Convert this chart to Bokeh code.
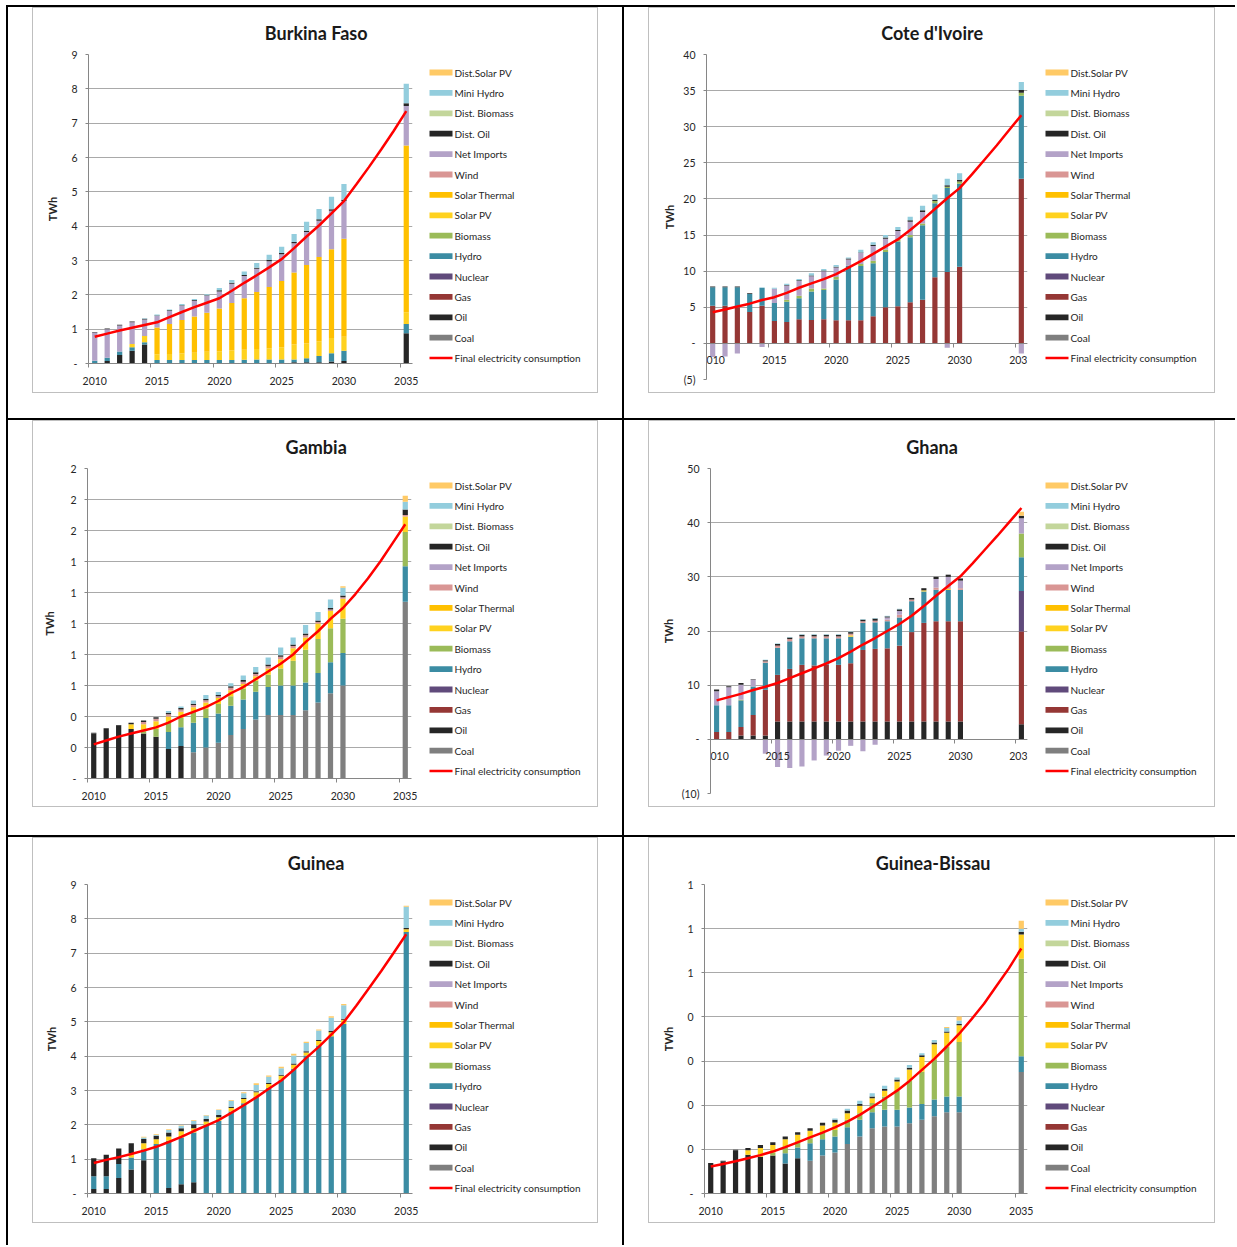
from bokeh.plotting import figure
from bokeh.models import (Range1d, FixedTicker, Title, Row, Column)
from bokeh.core.properties import value
from bokeh.embed import file_html
from bokeh.resources import INLINE

YEARS = list(range(2010, 2031)) + [2035]
LINE_YEARS = list(range(2010, 2036))
X_TICKS = [2010, 2015, 2020, 2025, 2030, 2035]
X_BOUNDS = [2009.5, 2014.5, 2019.5, 2024.5, 2029.5, 2034.5]

STACK_ORDER = ["Coal", "Oil", "Gas", "Nuclear", "Hydro", "Biomass", "Solar PV",
               "Solar Thermal", "Wind", "Net Imports", "Dist. Oil",
               "Dist. Biomass", "Mini Hydro", "Dist.Solar PV"]
LINE_LABEL = "Final electricity consumption"
COLORS = {
    "Coal": "#7F7F7F", "Oil": "#262626", "Gas": "#953735", "Nuclear": "#604A7B",
    "Hydro": "#3B8CA3", "Biomass": "#9BBB59", "Solar PV": "#FFD21F",
    "Solar Thermal": "#FFC000", "Wind": "#D99694", "Net Imports": "#B3A2C7",
    "Dist. Oil": "#262626", "Dist. Biomass": "#C3D69B", "Mini Hydro": "#93CDDD",
    "Dist.Solar PV": "#FFCA66",
}

burkina_faso = {
    "Oil": [0, 0.07, 0.25, 0.37, 0.55, 0, 0, 0, 0, 0, 0, 0, 0, 0, 0, 0, 0.04, 0.04, 0.04, 0.06, 0.07, 0.88],
    "Hydro": [0.08, 0.10, 0.10, 0.10, 0.07, 0.10, 0.10, 0.10, 0.10, 0.10, 0.10, 0.10, 0.11, 0.12, 0.12, 0.12, 0.08, 0.11, 0.18, 0.24, 0.30, 0.27],
    "Solar PV": [0, 0, 0, 0.10, 0.18, 0.17, 0.18, 0.19, 0.21, 0.24, 0.26, 0.28, 0.29, 0.30, 0.32, 0.35, 0.43, 0.43, 0.43, 0.44, 0.41, 0.34],
    "Solar Thermal": [0, 0, 0, 0, 0, 0.78, 0.87, 0.98, 1.06, 1.14, 1.24, 1.38, 1.50, 1.66, 1.79, 1.93, 2.10, 2.29, 2.45, 2.59, 2.85, 4.86],
    "Net Imports": [0.82, 0.83, 0.76, 0.63, 0.48, 0.33, 0.38, 0.41, 0.46, 0.49, 0.50, 0.56, 0.65, 0.68, 0.75, 0.78, 0.85, 0.96, 1.06, 1.12, 1.10, 1.15],
    "Dist. Oil": [0.02, 0.02, 0.02, 0.02, 0.02, 0.02, 0.02, 0.02, 0.02, 0.02, 0.03, 0.03, 0.03, 0.03, 0.04, 0.04, 0.04, 0.04, 0.04, 0.04, 0.04, 0.08],
    "Mini Hydro": [0, 0, 0, 0, 0.02, 0.03, 0.02, 0.03, 0.03, 0.03, 0.07, 0.08, 0.10, 0.14, 0.15, 0.18, 0.23, 0.26, 0.30, 0.37, 0.46, 0.57],
}
burkina_faso_line = [0.78, 0.87, 0.96, 1.04, 1.12, 1.20, 1.35, 1.50, 1.64, 1.77, 1.90, 2.12, 2.35, 2.57, 2.80, 3.04, 3.36, 3.70, 4.02, 4.37, 4.73, 5.22, 5.72, 6.24, 6.78, 7.35]

cote_divoire = {
    "Gas": [5.2, 5.2, 5.0, 4.35, 5.2, 3.1, 2.95, 3.35, 3.25, 3.35, 3.2, 3.2, 3.2, 3.75, 5.0, 5.15, 5.7, 6.05, 9.15, 9.9, 10.6, 22.8],
    "Hydro": [2.58, 2.58, 2.78, 2.5, 2.5, 2.5, 2.8, 2.9, 3.95, 4.05, 5.65, 7.55, 7.5, 7.35, 7.65, 8.95, 9.0, 10.3, 10.25, 11.6, 11.5, 11.5],
    "Biomass": [0, 0, 0, 0, 0, 0, 0.3, 0.35, 0.4, 0.2, 0.35, 0, 0.3, 0.35, 0.35, 0.25, 0.3, 0.25, 0.3, 0.2, 0.3, 0.4],
    "Net Imports": [-1.9, -1.8, -1.4, -0.05, -0.5, 1.95, 1.95, 2.05, 1.7, 2.4, 1.3, 0.85, 1.5, 2.05, 1.5, 1.2, 1.85, 1.6, -0.1, -0.6, -0.1, -1.4],
    "Dist. Oil": [0.1, 0.1, 0.1, 0.1, 0, 0, 0.1, 0.1, 0.1, 0.1, 0.1, 0.15, 0.1, 0.15, 0.15, 0.15, 0.2, 0.25, 0.2, 0.2, 0.25, 0.4],
    "Mini Hydro": [0, 0, 0, 0, 0.05, 0.15, 0.15, 0.15, 0.3, 0.2, 0.25, 0.15, 0.35, 0.35, 0.35, 0.4, 0.5, 0.6, 0.7, 0.9, 0.9, 1.1],
}
cote_divoire_line = [4.3, 4.7, 5.1, 5.5, 6.0, 6.4, 7.0, 7.7, 8.3, 8.9, 9.6, 10.5, 11.4, 12.4, 13.4, 14.4, 15.7, 17.1, 18.6, 20.1, 21.5, 23.4, 25.4, 27.4, 29.5, 31.6]

gambia = {
    "Coal": [0, 0, 0, 0, 0, 0, 0, 0, 0.17, 0.2, 0.23, 0.28, 0.32, 0.38, 0.41, 0.41, 0.41, 0.44, 0.49, 0.55, 0.6, 1.14],
    "Oil": [0.29, 0.32, 0.34, 0.32, 0.29, 0.27, 0.19, 0.21, 0, 0, 0, 0, 0, 0, 0, 0, 0, 0, 0, 0, 0, 0],
    "Hydro": [0, 0, 0, 0, 0, 0, 0.11, 0.12, 0.19, 0.19, 0.19, 0.19, 0.19, 0.18, 0.18, 0.19, 0.19, 0.18, 0.19, 0.2, 0.21, 0.23],
    "Biomass": [0, 0, 0, 0, 0.015, 0.05, 0.06, 0.06, 0.07, 0.06, 0.06, 0.06, 0.07, 0.07, 0.08, 0.11, 0.16, 0.21, 0.22, 0.22, 0.22, 0.22],
    "Solar PV": [0, 0, 0, 0.03, 0.045, 0.05, 0.04, 0.04, 0.03, 0.04, 0.04, 0.04, 0.03, 0.03, 0.04, 0.06, 0.08, 0.08, 0.1, 0.11, 0.13, 0.1],
    "Wind": [0, 0, 0, 0, 0.015, 0.015, 0.015, 0.015, 0.015, 0.015, 0.01, 0.015, 0.015, 0.015, 0.015, 0.015, 0.015, 0.015, 0.01, 0.01, 0.01, 0.01],
    "Dist. Oil": [0.005, 0.005, 0.005, 0.01, 0.01, 0.01, 0.01, 0.01, 0.008, 0.008, 0.008, 0.01, 0.01, 0.01, 0.01, 0.01, 0.01, 0.01, 0.01, 0.01, 0.01, 0.035],
    "Mini Hydro": [0, 0, 0, 0, 0, 0, 0.01, 0.01, 0.02, 0.025, 0.02, 0.02, 0.03, 0.035, 0.045, 0.05, 0.045, 0.055, 0.055, 0.055, 0.05, 0.05],
    "Dist.Solar PV": [0, 0, 0, 0, 0, 0, 0, 0, 0, 0, 0, 0, 0, 0, 0, 0, 0, 0, 0, 0, 0.01, 0.04],
}
gambia_line = [0.22, 0.245, 0.27, 0.29, 0.31, 0.33, 0.36, 0.40, 0.43, 0.46, 0.50, 0.55, 0.59, 0.64, 0.69, 0.74, 0.80, 0.88, 0.95, 1.03, 1.10, 1.19, 1.29, 1.40, 1.52, 1.64]

ghana = {
    "Oil": [0, 0, 0.7, 0.7, 0.7, 3.3, 3.3, 3.3, 3.3, 3.3, 3.3, 3.3, 3.3, 3.3, 3.3, 3.3, 3.3, 3.3, 3.3, 3.3, 3.3, 2.8],
    "Gas": [1.35, 1.35, 1.6, 3.8, 8.45, 8.6, 9.7, 10.45, 10.35, 10.45, 10.45, 10.75, 13.2, 13.4, 13.5, 14.0, 16.5, 18.2, 18.5, 18.5, 18.5, 17.1],
    "Nuclear": [0, 0, 0, 0, 0, 0, 0, 0, 0, 0, 0, 0, 0, 0, 0, 0, 0, 0, 0, 0, 0, 7.5],
    "Hydro": [4.95, 4.95, 4.9, 5.25, 5.0, 5.0, 5.1, 4.9, 5.0, 4.9, 4.9, 4.9, 5.0, 4.9, 5.0, 5.2, 5.7, 5.8, 5.8, 5.8, 5.8, 6.2],
    "Biomass": [0, 0, 0, 0, 0, 0, 0, 0, 0, 0, 0, 0, 0, 0, 0, 0, 0, 0, 0, 0, 0, 4.4],
    "Solar PV": [0, 0, 0.1, 0, 0, 0, 0, 0, 0, 0, 0, 0.25, 0, 0, 0, 0, 0, 0.2, 0, 0.2, 0, 0],
    "Wind": [0, 0, 0, 0, 0.25, 0.4, 0.4, 0.35, 0.35, 0.35, 0.35, 0.3, 0.3, 0.3, 0.3, 0.5, 0.3, 0, 0.4, 0.3, 0.3, 0],
    "Net Imports": [2.6, 3.3, 2.8, 1.25, -2.65, -5.1, -5.3, -5.0, -3.9, -3.0, -2.1, -1.2, -2.2, -1.0, 0.4, 0.7, 0, 0, 1.6, 1.9, 1.4, 2.8],
    "Dist. Oil": [0.3, 0.2, 0.3, 0.1, 0.2, 0.3, 0.3, 0.3, 0.3, 0.3, 0.3, 0.3, 0.3, 0.4, 0.2, 0.3, 0.3, 0.4, 0.4, 0.4, 0.4, 0.5],
    "Mini Hydro": [0, 0, 0, 0, 0.1, 0.1, 0.1, 0.1, 0.1, 0.1, 0.1, 0.1, 0.1, 0.1, 0.1, 0.1, 0, 0, 0, 0, 0, 0],
    "Dist.Solar PV": [0, 0, 0, 0, 0, 0, 0, 0, 0, 0, 0, 0, 0, 0, 0, 0, 0, 0, 0, 0, 0, 0.7],
}
ghana_line = [7.2, 7.8, 8.4, 9.1, 9.7, 10.4, 11.3, 12.2, 13.1, 14.0, 15.0, 16.2, 17.5, 18.7, 20.0, 21.3, 22.8, 24.6, 26.5, 28.3, 30.1, 32.5, 35.0, 37.5, 40.1, 42.7]

guinea = {
    "Oil": [0.13, 0.13, 0.45, 0.7, 0.97, 0, 0.16, 0.27, 0.33, 0, 0, 0, 0, 0, 0, 0, 0, 0, 0, 0, 0, 0],
    "Hydro": [0.37, 0.37, 0.41, 0.35, 0.32, 1.44, 1.38, 1.36, 1.45, 2.0, 2.12, 2.39, 2.63, 2.82, 3.07, 3.31, 3.63, 4.02, 4.31, 4.58, 4.94, 7.62],
    "Solar PV": [0, 0, 0, 0.12, 0.17, 0.14, 0.12, 0.18, 0.12, 0.1, 0.1, 0.1, 0.12, 0.13, 0.12, 0.12, 0.12, 0.09, 0.13, 0.12, 0.12, 0.08],
    "Dist. Oil": [0.53, 0.63, 0.45, 0.29, 0.13, 0.1, 0.12, 0.09, 0.12, 0.07, 0.07, 0.04, 0.03, 0.03, 0.03, 0.03, 0.04, 0.03, 0.03, 0.03, 0.03, 0.03],
    "Mini Hydro": [0, 0, 0, 0, 0.04, 0.03, 0.07, 0.07, 0.1, 0.1, 0.14, 0.17, 0.14, 0.18, 0.18, 0.19, 0.23, 0.24, 0.28, 0.39, 0.39, 0.62],
    "Dist.Solar PV": [0, 0, 0, 0, 0.02, 0.02, 0.02, 0.02, 0.02, 0.02, 0.02, 0.02, 0.03, 0.05, 0.04, 0.04, 0.05, 0.04, 0.03, 0.04, 0.04, 0.03],
}
guinea_line = [0.89, 0.98, 1.06, 1.15, 1.25, 1.36, 1.50, 1.65, 1.82, 1.98, 2.14, 2.35, 2.57, 2.80, 3.05, 3.29, 3.60, 3.95, 4.27, 4.63, 4.99, 5.47, 5.97, 6.48, 7.01, 7.55]

guinea_bissau = {
    "Oil": [0.067, 0.072, 0.097, 0.088, 0.083, 0.086, 0.068, 0.08, 0, 0, 0, 0, 0, 0, 0, 0, 0, 0, 0, 0, 0, 0],
    "Coal": [0, 0, 0, 0, 0, 0, 0, 0, 0.074, 0.086, 0.093, 0.112, 0.129, 0.148, 0.152, 0.152, 0.159, 0.167, 0.175, 0.184, 0.184, 0.275],
    "Hydro": [0, 0, 0, 0, 0, 0, 0.023, 0.024, 0.04, 0.037, 0.036, 0.038, 0.038, 0.036, 0.038, 0.038, 0.036, 0.036, 0.038, 0.036, 0.036, 0.036],
    "Biomass": [0, 0, 0, 0, 0, 0.007, 0.015, 0.012, 0.011, 0.016, 0.015, 0.017, 0.015, 0.021, 0.03, 0.042, 0.061, 0.073, 0.091, 0.112, 0.123, 0.221],
    "Solar PV": [0, 0, 0, 0.01, 0.02, 0.017, 0.017, 0.017, 0.017, 0.015, 0.017, 0.015, 0.017, 0.011, 0.013, 0.022, 0.025, 0.033, 0.034, 0.032, 0.038, 0.055],
    "Dist. Oil": [0.002, 0.002, 0.002, 0.005, 0.007, 0.006, 0.006, 0.006, 0.006, 0.006, 0.006, 0.006, 0.004, 0.004, 0.004, 0.004, 0.004, 0.004, 0.004, 0.003, 0.003, 0.006],
    "Mini Hydro": [0, 0, 0, 0, 0, 0, 0, 0, 0, 0, 0.003, 0.004, 0.007, 0.007, 0.007, 0.005, 0.006, 0.005, 0.006, 0.008, 0.008, 0.007],
    "Dist.Solar PV": [0, 0, 0, 0, 0, 0, 0, 0, 0, 0, 0, 0, 0, 0, 0, 0, 0, 0, 0, 0.002, 0.009, 0.018],
}
guinea_bissau_line = [0.061, 0.067, 0.073, 0.080, 0.087, 0.095, 0.105, 0.116, 0.127, 0.138, 0.150, 0.163, 0.178, 0.196, 0.214, 0.233, 0.255, 0.280, 0.305, 0.333, 0.362, 0.395, 0.430, 0.470, 0.510, 0.555]

bf_yticks = [0, 1, 2, 3, 4, 5, 6, 7, 8, 9]
ci_yticks = [-5, 0, 5, 10, 15, 20, 25, 30, 35, 40]
gm_yticks = [0, 0.2, 0.4, 0.6, 0.8, 1.0, 1.2, 1.4, 1.6, 1.8, 2.0]
gh_yticks = [-10, 0, 10, 20, 30, 40, 50]
gn_yticks = [0, 1, 2, 3, 4, 5, 6, 7, 8, 9]
gb_yticks = [0, 0.1, 0.2, 0.3, 0.4, 0.5, 0.6, 0.7]

FONT = "Lato"
TXT = "#262626"
AXIS_C = "#868686"
GRID_C = "#A9A9A9"
TITLE_PX = 18

_EM = {"B": .62, "C": .64, "F": .53, "G": .68, "I": .28, "a": .50, "b": .56,
       "d": .56, "e": .53, "h": .56, "i": .25, "k": .51, "m": .83, "n": .56,
       "o": .56, "r": .37, "s": .42, "t": .35, "u": .56, "v": .51, "'": .20,
       " ": .25, "-": .34}


def text_width(s, px):
    return sum(_EM.get(c, .55) for c in s) * px


def accounting(v):
    if abs(v) < 1e-9:
        return "-"
    r = int(abs(v) + 0.5 + 1e-9)
    return "(%d)" % r if v < 0 else "%d" % r


def make_cell(name, data, line, y_lo, y_hi, y_ticks, cw, ch, fw, mb_left,
              mb_top, mb_bottom, twh_standoff, cross_zero, margin):
    mb_right = 8
    fh = ch - mb_top - mb_bottom
    p = figure(frame_width=fw, frame_height=fh,
               x_range=Range1d(2009.5, 2035.5), y_range=Range1d(y_lo, y_hi),
               output_backend="svg", toolbar_location=None,
               min_border_left=mb_left, min_border_right=mb_right,
               min_border_top=mb_top, min_border_bottom=mb_bottom,
               background_fill_color="white", border_fill_color="white",
               outline_line_color=None)

    n = len(YEARS)
    pos = [0.0] * n
    neg = [0.0] * n
    for s in STACK_ORDER:
        vals = data.get(s, [0.0] * n)
        bottoms, tops = [], []
        for i, v in enumerate(vals):
            if v >= 0:
                bottoms.append(pos[i]); pos[i] += v; tops.append(pos[i])
            else:
                bottoms.append(neg[i]); neg[i] += v; tops.append(neg[i])
        p.vbar(x=YEARS, bottom=bottoms, top=tops, width=0.42,
               fill_color=COLORS[s], line_color=None)
    p.line(LINE_YEARS, line, line_color="#FF0000", line_width=2.5)

    xa = p.xaxis[0]
    xa.ticker = FixedTicker(ticks=X_TICKS, minor_ticks=X_BOUNDS)
    xa.major_tick_out = 0
    xa.major_tick_in = 0
    xa.minor_tick_out = 4
    xa.minor_tick_in = 0
    xa.minor_tick_line_color = AXIS_C
    xa.axis_line_color = AXIS_C
    xa.major_label_standoff = 9
    xa.major_label_text_font = FONT
    xa.major_label_text_font_size = "10.5px"
    xa.major_label_text_color = TXT
    if cross_zero:
        xa.fixed_location = 0

    ya = p.yaxis[0]
    ya.ticker = FixedTicker(ticks=y_ticks)
    ya.major_label_overrides = {float(t): accounting(t) for t in y_ticks}
    ya.major_tick_out = 3
    ya.major_tick_in = 0
    ya.major_tick_line_color = AXIS_C
    ya.axis_line_color = AXIS_C
    ya.major_label_standoff = 8
    ya.major_label_text_font = FONT
    ya.major_label_text_font_size = "10.5px"
    ya.major_label_text_color = TXT
    ya.axis_label = "TWh"
    ya.axis_label_text_font = FONT
    ya.axis_label_text_font_size = "11px"
    ya.axis_label_text_font_style = "bold"
    ya.axis_label_text_color = TXT
    ya.axis_label_standoff = twh_standoff

    p.xgrid.grid_line_color = None
    p.ygrid.grid_line_color = GRID_C

    offset = 282 - text_width(name, TITLE_PX) / 2 - mb_left
    p.add_layout(Title(text=name, align="left", offset=offset,
                       vertical_align="middle", standoff=20,
                       text_font=FONT, text_font_size="%dpx" % TITLE_PX,
                       text_font_style="bold", text_color="#1A1A1A"), "above")

    # key panel: a companion figure with the same vertical borders as the
    # chart, whose ranges are in canvas pixels (y grows downward)
    main_w = mb_left + fw + mb_right
    lw = cw - main_w
    lf = figure(frame_width=lw, frame_height=fh,
                x_range=Range1d(0, lw), y_range=Range1d(mb_top + fh, mb_top),
                output_backend="svg", toolbar_location=None,
                x_axis_location=None, y_axis_location=None,
                title_location=None, min_border_left=0, min_border_right=0,
                min_border_top=mb_top, min_border_bottom=mb_bottom,
                outline_line_color=None, background_fill_color="white",
                border_fill_color="white")
    lf.xgrid.grid_line_color = None
    lf.ygrid.grid_line_color = None

    labels = list(reversed(STACK_ORDER)) + [LINE_LABEL]
    yc = [64.0 + 20.4 * k for k in range(len(labels))]
    x0, x1, tx = 396 - main_w, 419 - main_w, 421 - main_w
    nb = len(STACK_ORDER)
    lf.quad(left=[x0] * nb, right=[x1] * nb,
            top=[y - 2.9 for y in yc[:nb]], bottom=[y + 2.9 for y in yc[:nb]],
            fill_color=[COLORS[s] for s in labels[:nb]], line_color=None)
    lf.segment(x0=[x0], y0=[yc[-1]], x1=[x1], y1=[yc[-1]],
               line_color="#FF0000", line_width=2.5)
    lf.text(x=[tx] * len(labels), y=yc, text=labels,
            text_font=value(FONT), text_font_size=value("10px"),
            text_baseline="middle", text_align="left", text_color=TXT)

    return Row(children=[p, lf], spacing=0, margin=margin,
               styles={"outline": "1px solid #BFBFBF"})


# (top, right, bottom, left) margins place each chart box inside its table cell
c_bf = make_cell("Burkina Faso", burkina_faso, burkina_faso_line, 0, 9, bf_yticks,
                 564, 384, 324, 55, 46, 29, 9, False, (8, 25, 26, 33))
c_ci = make_cell("Cote d'Ivoire", cote_divoire, cote_divoire_line, -5, 40, ci_yticks,
                 565, 384, 321, 57, 46, 13, 4, True, (8, 21, 26, 27))
c_gm = make_cell("Gambia", gambia, gambia_line, 0, 2.0, gm_yticks,
                 564, 385, 324, 54, 47, 28, 11, False, (3, 25, 29, 33))
c_gh = make_cell("Ghana", ghana, ghana_line, -10, 50, gh_yticks,
                 565, 385, 317, 61, 47, 13, 4, True, (3, 21, 29, 27))
c_gn = make_cell("Guinea", guinea, guinea_line, 0, 9, gn_yticks,
                 564, 384, 325, 54, 46, 29, 9, False, (3, 25, 23, 33))
c_gb = make_cell("Guinea-Bissau", guinea_bissau, guinea_bissau_line, 0, 0.7, gb_yticks,
                 565, 384, 323, 55, 46, 29, 9, False, (3, 21, 23, 27))

rules = [("6px 5px", "100% 2px"), ("6px 5px", "2px 100%"), ("622px 5px", "2px 100%"),
         ("6px 418px", "100% 2px"), ("6px 835px", "100% 2px")]
root = Column(children=[Row(children=[c_bf, c_ci], spacing=0),
                        Row(children=[c_gm, c_gh], spacing=0),
                        Row(children=[c_gn, c_gb], spacing=0)],
              spacing=0,
              styles={
                  "background-color": "#FFFFFF",
                  "background-image": ", ".join(["linear-gradient(#000000, #000000)"] * len(rules)),
                  "background-position": ", ".join(r[0] for r in rules),
                  "background-size": ", ".join(r[1] for r in rules),
                  "background-repeat": "no-repeat",
              })

open("out.html", "w").write(file_html(root, INLINE))
